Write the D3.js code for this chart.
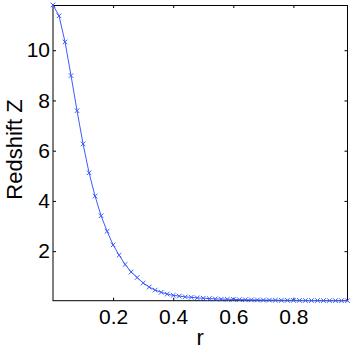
<!DOCTYPE html>
<html>
<head>
<meta charset="utf-8">
<style>
  body { margin: 0; background: #fff; }
  svg { display: block; font-family: "Liberation Sans", Arial, sans-serif; }
  .tick text { font-size: 21px; fill: #000; }
  .line { fill: none; stroke: #3a5cff; stroke-width: 1px; }
  .mark { stroke: #3a5cff; stroke-width: 1px; }
</style>
</head>
<body>
<script src="https://cdn.jsdelivr.net/npm/d3@7"></script>
<script>
// r values (0 to 0.98 in steps of 0.02)
var rVals = [0.00, 0.02, 0.04, 0.06, 0.08, 0.10, 0.12, 0.14, 0.16, 0.18,
             0.20, 0.22, 0.24, 0.26, 0.28, 0.30, 0.32, 0.34, 0.36, 0.38,
             0.40, 0.42, 0.44, 0.46, 0.48, 0.50, 0.52, 0.54, 0.56, 0.58,
             0.60, 0.62, 0.64, 0.66, 0.68, 0.70, 0.72, 0.74, 0.76, 0.78,
             0.80, 0.82, 0.84, 0.86, 0.88, 0.90, 0.92, 0.94, 0.96, 0.98];
// redshift values
var zVals = [11.80, 11.37, 10.33, 8.99, 7.59, 6.27, 5.12, 4.19, 3.41, 2.79,
             2.25, 1.84, 1.47, 1.17, 0.95, 0.73, 0.57, 0.45, 0.36, 0.29,
             0.24, 0.21, 0.18, 0.16, 0.14, 0.125, 0.11, 0.10, 0.09, 0.085,
             0.078, 0.072, 0.066, 0.061, 0.057, 0.053, 0.050, 0.047, 0.044, 0.042,
             0.040, 0.038, 0.036, 0.034, 0.033, 0.031, 0.030, 0.029, 0.028, 0.027];
var xTicks = [0.2, 0.4, 0.6, 0.8];
var yTicks = [2, 4, 6, 8, 10];

var W = 354, H = 351;
var mLeft = 53, mRight = 347.5, mTop = 5, mBottom = 300.7;

var data = rVals.map(function (r, i) { return { r: r, z: zVals[i] }; });

var x = d3.scaleLinear().domain(d3.extent(rVals)).range([mLeft, mRight]);
var y = d3.scaleLinear().domain(d3.extent(zVals)).range([mBottom, mTop]);

var svg = d3.select("body").append("svg")
    .attr("width", W)
    .attr("height", H);

// axes (ticks inward, mirrored)
svg.append("g")
    .attr("transform", "translate(0," + mBottom + ")")
    .call(d3.axisBottom(x).tickValues(xTicks).tickSizeInner(-3).tickSizeOuter(0).tickPadding(8).tickFormat(d3.format(".1f")))
    .call(function (g) { g.select(".domain").remove(); });
svg.append("g")
    .attr("transform", "translate(0," + mTop + ")")
    .call(d3.axisTop(x).tickValues(xTicks).tickSizeInner(-3).tickSizeOuter(0).tickFormat(""))
    .call(function (g) { g.select(".domain").remove(); });
svg.append("g")
    .attr("transform", "translate(" + mLeft + ",0)")
    .call(d3.axisLeft(y).tickValues(yTicks).tickSizeInner(-3).tickSizeOuter(0).tickPadding(3))
    .call(function (g) { g.select(".domain").remove(); });
svg.append("g")
    .attr("transform", "translate(" + mRight + ",0)")
    .call(d3.axisRight(y).tickValues(yTicks).tickSizeInner(-3).tickSizeOuter(0).tickFormat(""))
    .call(function (g) { g.select(".domain").remove(); });

// box
svg.append("rect")
    .attr("x", mLeft).attr("y", mTop + 0.5)
    .attr("width", mRight - mLeft).attr("height", mBottom - mTop - 0.5)
    .attr("fill", "none").attr("stroke", "#000").attr("stroke-width", 1);

// the line
var line = d3.line()
    .x(function (d) { return x(d.r); })
    .y(function (d) { return y(d.z); });
svg.append("path").datum(data).attr("class", "line").attr("d", line);

// x markers
var s = 2.3;
var marks = svg.append("g").selectAll("g").data(data).enter().append("g")
    .attr("transform", function (d) { return "translate(" + x(d.r) + "," + y(d.z) + ")"; });
marks.append("line").attr("class", "mark").attr("x1", -s).attr("y1", -s).attr("x2", s).attr("y2", s);
marks.append("line").attr("class", "mark").attr("x1", -s).attr("y1", s).attr("x2", s).attr("y2", -s);

// labels
svg.append("text")
    .attr("x", (mLeft + mRight) / 2).attr("y", 345)
    .attr("text-anchor", "middle")
    .style("font-size", "22px")
    .text("r");
svg.append("text")
    .attr("transform", "translate(22,149.5) rotate(-90)")
    .attr("text-anchor", "middle")
    .style("font-size", "22px")
    .text("Redshift Z");
</script>
</body>
</html>
